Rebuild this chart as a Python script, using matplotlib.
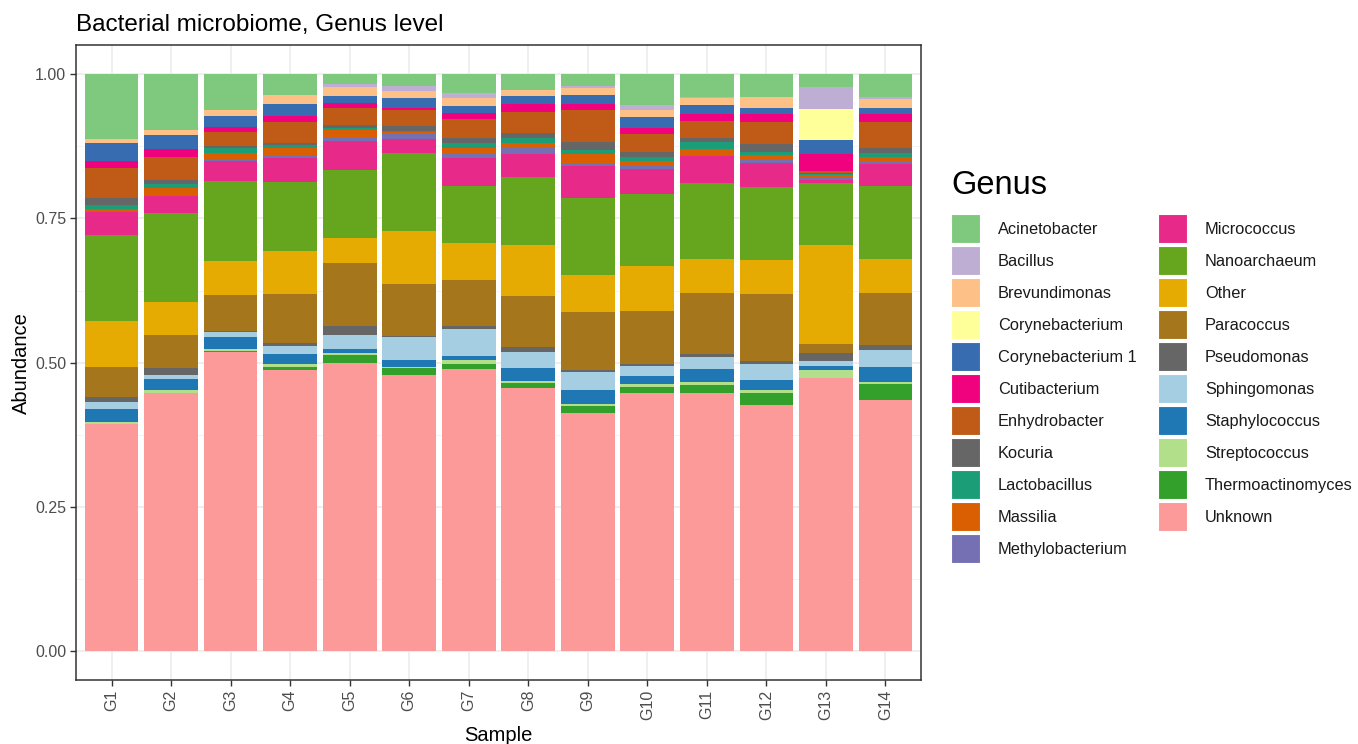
import numpy as np
import matplotlib
matplotlib.use("Agg")
import matplotlib.pyplot as plt
from matplotlib.patches import Rectangle

plt.rcParams["font.family"] = ["Liberation Sans", "DejaVu Sans"]

samples = ["G1", "G2", "G3", "G4", "G5", "G6", "G7",
           "G8", "G9", "G10", "G11", "G12", "G13", "G14"]

# relative abundance per genus, one value per sample (G1..G14)
acinetobacter = [0.113, 0.097, 0.062, 0.036, 0.017, 0.021, 0.032, 0.027, 0.021, 0.053, 0.039, 0.040, 0.022, 0.039]
bacillus = [0.000, 0.000, 0.000, 0.000, 0.005, 0.008, 0.009, 0.000, 0.003, 0.010, 0.002, 0.000, 0.039, 0.005]
brevundimonas = [0.007, 0.009, 0.010, 0.016, 0.016, 0.012, 0.014, 0.011, 0.012, 0.012, 0.012, 0.018, 0.000, 0.014]
corynebacterium = [0.000, 0.000, 0.000, 0.000, 0.000, 0.000, 0.000, 0.000, 0.000, 0.000, 0.000, 0.000, 0.054, 0.000]
corynebacterium_1 = [0.031, 0.024, 0.019, 0.021, 0.013, 0.017, 0.012, 0.014, 0.016, 0.019, 0.017, 0.012, 0.024, 0.012]
cutibacterium = [0.013, 0.014, 0.010, 0.010, 0.007, 0.005, 0.010, 0.014, 0.010, 0.010, 0.012, 0.014, 0.029, 0.013]
enhydrobacter = [0.052, 0.040, 0.024, 0.036, 0.031, 0.028, 0.033, 0.036, 0.055, 0.031, 0.029, 0.038, 0.004, 0.045]
kocuria = [0.012, 0.007, 0.004, 0.005, 0.004, 0.008, 0.009, 0.009, 0.014, 0.009, 0.007, 0.013, 0.002, 0.009]
lactobacillus = [0.007, 0.007, 0.008, 0.005, 0.004, 0.002, 0.009, 0.008, 0.008, 0.007, 0.012, 0.005, 0.002, 0.007]
massilia = [0.005, 0.011, 0.010, 0.014, 0.012, 0.003, 0.008, 0.009, 0.017, 0.009, 0.010, 0.010, 0.003, 0.007]
methylobacterium = [0.000, 0.003, 0.004, 0.003, 0.007, 0.009, 0.009, 0.010, 0.004, 0.005, 0.003, 0.004, 0.006, 0.005]
micrococcus = [0.040, 0.029, 0.034, 0.041, 0.050, 0.024, 0.048, 0.040, 0.055, 0.043, 0.047, 0.043, 0.005, 0.039]
nanoarchaeum = [0.150, 0.155, 0.140, 0.121, 0.119, 0.136, 0.100, 0.118, 0.133, 0.125, 0.131, 0.126, 0.107, 0.126]
other = [0.079, 0.057, 0.059, 0.074, 0.043, 0.091, 0.063, 0.088, 0.064, 0.079, 0.060, 0.059, 0.172, 0.059]
paracoccus = [0.052, 0.057, 0.062, 0.086, 0.110, 0.091, 0.081, 0.088, 0.101, 0.091, 0.105, 0.117, 0.017, 0.091]
pseudomonas = [0.010, 0.012, 0.002, 0.005, 0.016, 0.002, 0.005, 0.009, 0.004, 0.003, 0.005, 0.005, 0.013, 0.009]
sphingomonas = [0.012, 0.007, 0.009, 0.014, 0.024, 0.040, 0.046, 0.028, 0.031, 0.018, 0.021, 0.028, 0.008, 0.029]
staphylococcus = [0.022, 0.019, 0.021, 0.017, 0.007, 0.012, 0.007, 0.022, 0.024, 0.014, 0.024, 0.017, 0.008, 0.027]
streptococcus = [0.004, 0.005, 0.002, 0.005, 0.003, 0.002, 0.007, 0.004, 0.004, 0.005, 0.005, 0.005, 0.014, 0.003]
thermoactinomyces = [0.000, 0.000, 0.002, 0.005, 0.014, 0.012, 0.009, 0.008, 0.012, 0.011, 0.014, 0.021, 0.000, 0.027]
unknown = [0.395, 0.449, 0.520, 0.489, 0.501, 0.480, 0.489, 0.456, 0.413, 0.448, 0.448, 0.428, 0.475, 0.437]

genera = ["Acinetobacter", "Bacillus", "Brevundimonas", "Corynebacterium",
          "Corynebacterium 1", "Cutibacterium", "Enhydrobacter", "Kocuria",
          "Lactobacillus", "Massilia", "Methylobacterium", "Micrococcus",
          "Nanoarchaeum", "Other", "Paracoccus", "Pseudomonas",
          "Sphingomonas", "Staphylococcus", "Streptococcus",
          "Thermoactinomyces", "Unknown"]

abundance = [acinetobacter, bacillus, brevundimonas, corynebacterium,
             corynebacterium_1, cutibacterium, enhydrobacter, kocuria,
             lactobacillus, massilia, methylobacterium, micrococcus,
             nanoarchaeum, other, paracoccus, pseudomonas, sphingomonas,
             staphylococcus, streptococcus, thermoactinomyces, unknown]

# Accent + Dark2 + Paired brewer colours
colors = ["#7FC97F", "#BEAED4", "#FDC086", "#FFFF99", "#386CB0", "#F0027F",
          "#BF5B17", "#666666", "#1B9E77", "#D95F02", "#7570B3", "#E7298A",
          "#66A61E", "#E6AB02", "#A6761D", "#666666", "#A6CEE3", "#1F78B4",
          "#B2DF8A", "#33A02C", "#FB9A99"]

W, H = 1358, 744


def draw_bars(ax):
    values = np.array(abundance)
    values = values / values.sum(axis=0)
    x = np.arange(1, len(samples) + 1)

    # first genus ends up on top, so stack from the last one upward
    bottom = np.zeros(len(samples))
    for i in reversed(range(len(genera))):
        ax.bar(x, values[i], width=0.9, bottom=bottom, color=colors[i],
               linewidth=0, zorder=3)
        bottom += values[i]

    ax.set_xlim(0.4, len(samples) + 0.6)
    ax.set_ylim(-0.05, 1.05)
    ax.set_xticks(x)
    ax.set_xticklabels(samples, rotation=90)
    ax.set_yticks([0, 0.25, 0.5, 0.75, 1.0])
    ax.set_yticklabels(["0.00", "0.25", "0.50", "0.75", "1.00"])
    ax.set_yticks([0.125, 0.375, 0.625, 0.875], minor=True)

    ax.grid(True, which="major", color="#EBEBEB", linewidth=1.1, zorder=0)
    ax.grid(True, which="minor", axis="y", color="#F2F2F2", linewidth=0.6, zorder=0)
    ax.set_axisbelow(True)

    for spine in ax.spines.values():
        spine.set_color("#333333")
        spine.set_linewidth(1.1)
    ax.tick_params(axis="both", which="major", colors="#333333", length=4,
                   width=1.0, labelsize=11.5, labelcolor="#4D4D4D", pad=3)
    ax.tick_params(axis="y", which="minor", length=0)

    ax.set_xlabel("Sample", fontsize=14.5, labelpad=4)
    ax.set_ylabel("Abundance", fontsize=14.5, labelpad=3)


def draw_legend(fig):
    lax = fig.add_axes([0, 0, 1, 1])
    lax.set_xlim(0, W)
    lax.set_ylim(H, 0)
    lax.axis("off")

    lax.text(951, 194, "Genus", fontsize=23.5, va="baseline", ha="left")

    per_col = 11
    key = 29
    step = 32
    for i, name in enumerate(genera):
        col, row = divmod(i, per_col)
        kx = 951 + col * 207
        ky = 214 + row * step
        lax.add_patch(Rectangle((kx, ky), key, key, facecolor=colors[i],
                                edgecolor="white", linewidth=0.8))
        lax.text(kx + 47, ky + key / 2 + 1, name, fontsize=11.8,
                 va="center", ha="left", color="#1A1A1A")


def main():
    fig = plt.figure(figsize=(W / 100, H / 100), dpi=100)
    ax = fig.add_axes([76 / W, 1 - 680 / H, 845 / W, (680 - 45.3) / H])
    draw_bars(ax)
    draw_legend(fig)

    fig.text(76 / W, 1 - 31 / H, "Bacterial microbiome, Genus level",
             fontsize=17.5, ha="left", va="baseline")

    fig.savefig("out.png", dpi=100)


if __name__ == "__main__":
    main()
